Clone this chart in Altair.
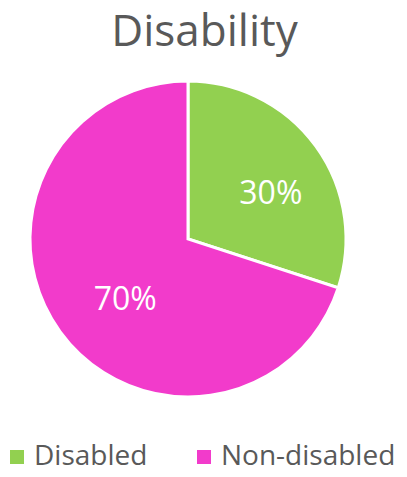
import altair as alt
import pandas as pd

categories = ["Disabled", "Non-disabled"]
values = [30, 70]
labels = ["30%", "70%"]
colors = ["#92D050", "#F23BCB"]

df = pd.DataFrame({"category": categories, "value": values, "label": labels,
                   "order": list(range(len(categories)))})

FONT = "Open Sans"
CX, CY = 180, 127

base = alt.Chart(df).encode(
    theta=alt.Theta("value:Q", stack=True),
    order=alt.Order("order:Q"),
)

arcs = base.mark_arc(outerRadius=158, stroke="white", strokeWidth=3).encode(
    x=alt.value(CX), y=alt.value(CY),
    color=alt.Color("category:N",
                    scale=alt.Scale(domain=categories, range=colors),
                    legend=alt.Legend(title=None, orient="none", direction="horizontal",
                                      legendX=-5, legendY=331,
                                      symbolType="square", symbolSize=196,
                                      symbolStrokeWidth=0,
                                      labelFontSize=28, labelFont=FONT,
                                      labelColor="#595959", labelOffset=3,
                                      columnPadding=42, labelLimit=300)),
)

texts = base.mark_text(radius=90, fontSize=32, font=FONT, color="white",
                       align="center", baseline="middle", dx=10, dy=8).encode(
    x=alt.value(CX), y=alt.value(CY),
    text="label:N",
)

chart = alt.layer(arcs, texts).properties(
    width=391, height=357,
    autosize=alt.AutoSizeParams(type="none"),
    padding={"top": 104, "left": 0, "right": 0, "bottom": 0},
    title=alt.TitleParams("Disability", fontSize=44, font=FONT, color="#595959",
                          fontWeight="normal", anchor="middle", baseline="bottom",
                          offset=-24, dx=1),
).configure_view(stroke=None)

chart.save("out.html", embed_options={"renderer": "svg", "actions": False})
